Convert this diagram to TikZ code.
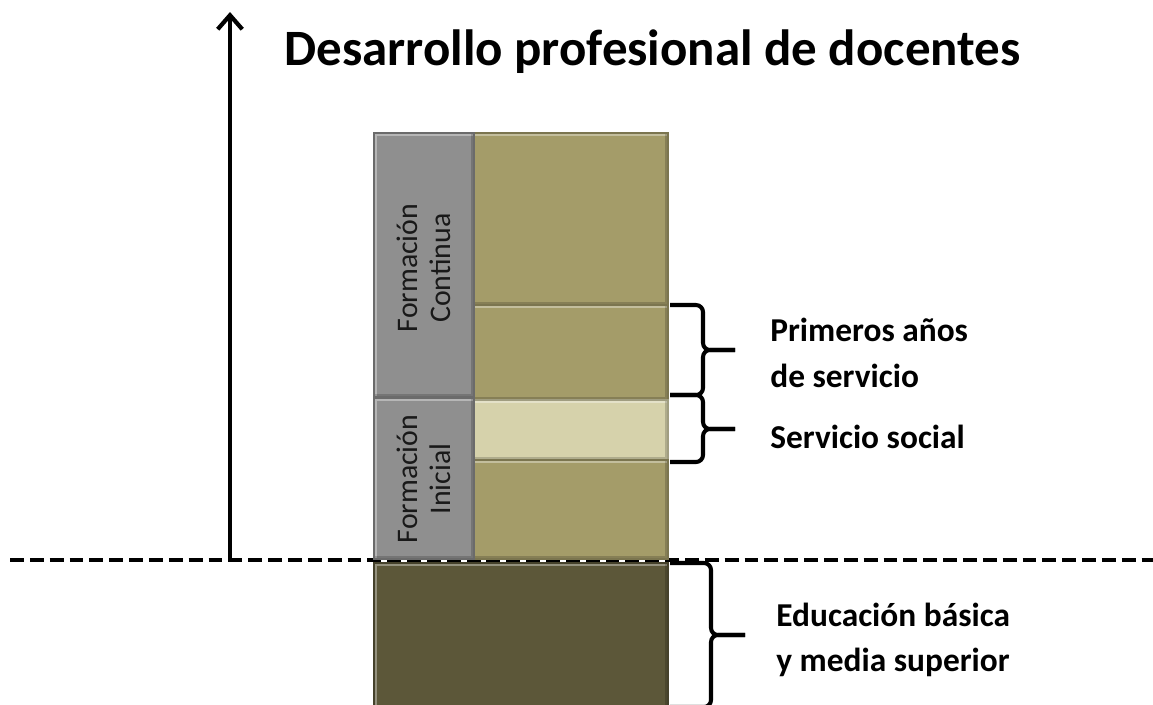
\documentclass[tikz,border=0pt]{standalone}
\usepackage{fontspec}
\setmainfont{Carlito}
\usetikzlibrary{arrows.meta}

\definecolor{oliveblk}{HTML}{A49C69}
\definecolor{lightblk}{HTML}{D6D2AB}
\definecolor{grayblk}{HTML}{8F8F8F}
\definecolor{darkblk}{HTML}{5C5739}

\tikzset{
  blk/.style={fill=#1, draw=#1!75!black, line width=0.6pt,
    path picture={
      \draw[white, opacity=0.35, line width=3.4pt]
        (path picture bounding box.south west) -- (path picture bounding box.north west)
        -- (path picture bounding box.north east);
      \draw[black, opacity=0.18, line width=3.4pt]
        (path picture bounding box.north east) -- (path picture bounding box.south east)
        -- (path picture bounding box.south west);
    }},
  side/.style={font=\fontsize{17pt}{19pt}\selectfont, rotate=90, align=center, text=black!90},
  lbl/.style={font=\bfseries\fontsize{19pt}{26pt}\selectfont, anchor=west, align=left, inner sep=0pt},
  brc/.style={line width=2.3pt, rounded corners=4pt},
  axis/.style={line width=2.4pt, -{Straight Barb[length=8pt, width=14pt]}},
}

\begin{document}
\begin{tikzpicture}[x=0.02cm, y=-0.02cm]
  \useasboundingbox (0,0) rectangle (1153,704);
  \clip (0,0) rectangle (1153,704);

  % Base line and vertical axis
  \draw[line width=2.6pt, dash pattern=on 7.9pt off 3.4pt] (10,560) -- (1153,560);
  \coordinate (org) at (230,560);
  \coordinate (top) at (230,12);
  \draw[axis] (org) -- (top); % Axis with arrow

  \node[anchor=base west, inner sep=0pt, font=\bfseries\fontsize{29pt}{32pt}\selectfont] (title) at (284,65)
    {Desarrollo profesional de docentes};

  % Column of stages
  \path[blk=oliveblk] (472,133) rectangle (668,305);
  \path[blk=oliveblk] (472,305) rectangle (668,400);
  \path[blk=lightblk] (472,400) rectangle (668,460);
  \path[blk=oliveblk] (472,460) rectangle (668,559);
  \path[blk=grayblk] (374,133) rectangle (474,397);
  \path[blk=grayblk] (374,398) rectangle (474,559);
  \path[blk=darkblk] (374,563) rectangle (668,720); % Below the base line

  \node[side] (cont) at (424,268) {Formación\\Continua};
  \node[side] (ini) at (424,479) {Formación\\Inicial};

  % Braces and their labels
  \draw[brc] (670,305) -- (703,305) -- (703,350) -- (735,350);
  \draw[brc] (670,395) -- (703,395) -- (703,350) -- (735,350);
  \draw[brc] (670,395) -- (703,395) -- (703,429) -- (735,429);
  \draw[brc] (670,462) -- (703,462) -- (703,429) -- (735,429);
  \draw[brc] (670,563) -- (711,563) -- (711,635) -- (745,635);
  \draw[brc] (670,707) -- (711,707) -- (711,635) -- (745,635);

  \node[lbl] (pri) at (770,353) {Primeros años\\de servicio};
  \node[lbl] (soc) at (770,437) {Servicio social};
  \node[lbl] (edu) at (776,640) {Educación básica\\y media superior};
\end{tikzpicture}
\end{document}
